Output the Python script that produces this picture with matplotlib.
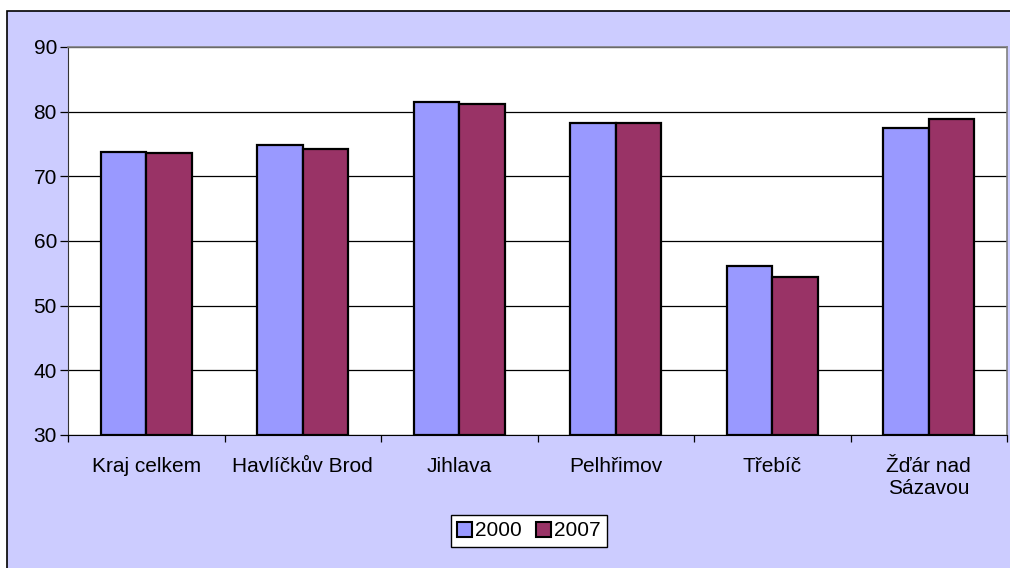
import matplotlib.pyplot as plt
import numpy as np
from matplotlib.patches import Rectangle

categories = ["Kraj celkem", "Havlíčkův Brod", "Jihlava", "Pelhřimov", "Třebíč", "Žďár nad\nSázavou"]
vals_2000 = [73.8, 74.8, 81.5, 78.2, 56.2, 77.5]
vals_2007 = [73.6, 74.3, 81.2, 78.2, 54.4, 78.9]
series_names = ["2000", "2007"]

plt.rcParams['font.family'] = ['Liberation Sans', 'DejaVu Sans']
FS = 15

fig = plt.figure(figsize=(10.1, 5.68), dpi=100, facecolor='white')
# lavender chart area with black border (right/bottom cut off by the image edge)
fig.patches.append(Rectangle((7 / 1010, -0.05), 1.1, 1 - 11 / 568 + 0.05, transform=fig.transFigure,
                             facecolor='#CCCCFF', edgecolor='black', linewidth=1.2, zorder=-10))

ax = fig.add_axes([68 / 1010, 1 - 435 / 568, 939 / 1010, 388 / 568])
ax.set_facecolor('white')

x = np.arange(len(categories))
w = 0.29
ax.bar(x - w / 2, np.array(vals_2000) - 30, w, bottom=30, color='#9999FF', edgecolor='black', linewidth=1.6,
       label=series_names[0], zorder=3)
ax.bar(x + w / 2, np.array(vals_2007) - 30, w, bottom=30, color='#993366', edgecolor='black', linewidth=1.6,
       label=series_names[1], zorder=3)

ax.set_xlim(-0.5, len(categories) - 0.5)
ax.set_ylim(30, 90)
ax.set_yticks(range(30, 91, 10))
ax.yaxis.grid(True, color='black', linewidth=0.9, zorder=0)
ax.set_axisbelow(True)

ax.set_xticks(x)
ax.set_xticklabels(categories, fontsize=FS, linespacing=1.2)
ax.set_xticks(np.arange(-0.5, len(categories), 1), minor=True)
ax.tick_params(axis='x', which='major', length=0, pad=16)
ax.tick_params(axis='x', which='minor', length=5, width=0.9, color='black', direction='out')
ax.tick_params(axis='y', length=6, width=0.9, color='black', direction='out', labelsize=FS, pad=2)

for s in ['top', 'right']:
    ax.spines[s].set_color('#808080')
    ax.spines[s].set_linewidth(1.2)
ax.spines['left'].set_color('#333333')
ax.spines['bottom'].set_color('black')

leg = fig.legend(loc='center', bbox_to_anchor=(529 / 1010, 1 - 531 / 568), ncol=2, fontsize=FS,
                 frameon=True, fancybox=False, edgecolor='black', framealpha=1,
                 handlelength=0.7, handleheight=0.7, handletextpad=0.15, columnspacing=0.7,
                 borderpad=0.3, borderaxespad=0)
leg.get_frame().set_linewidth(1.0)
for h in leg.legend_handles:
    h.set_linewidth(1.5)

fig.savefig('out.png', dpi=100, facecolor=fig.get_facecolor())
